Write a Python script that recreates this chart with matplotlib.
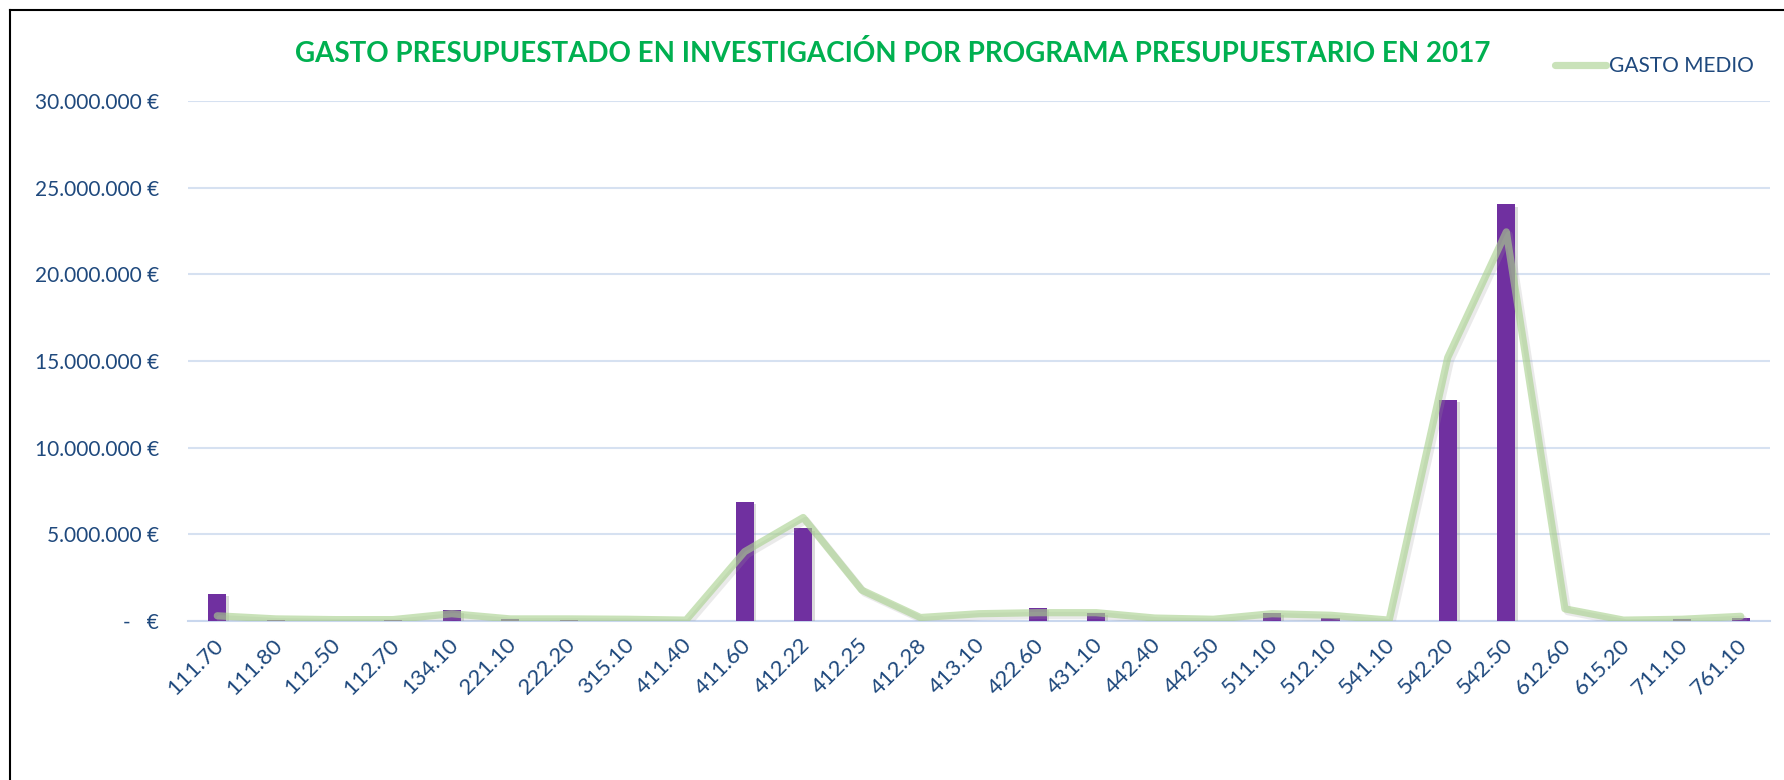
import matplotlib
matplotlib.use("Agg")
import matplotlib.pyplot as plt
import matplotlib.patheffects as pe
import matplotlib.transforms as mtransforms
from matplotlib.lines import Line2D
from matplotlib.ticker import FuncFormatter

categories = ["111.70", "111.80", "112.50", "112.70", "134.10", "221.10", "222.20",
              "315.10", "411.40", "411.60", "412.22", "412.25", "412.28", "413.10",
              "422.60", "431.10", "442.40", "442.50", "511.10", "512.10", "541.10",
              "542.20", "542.50", "612.60", "615.20", "711.10", "761.10"]

gasto_presupuestado = [1.58e6, 0.03e6, 0.0, 0.03e6, 0.62e6, 0.12e6, 0.05e6,
                       0.0, 0.0, 6.89e6, 5.35e6, 0.0, 0.0, 0.0,
                       0.77e6, 0.48e6, 0.0, 0.0, 0.48e6, 0.15e6, 0.0,
                       12.77e6, 24.05e6, 0.0, 0.0, 0.1e6, 0.17e6]

gasto_medio = [0.3e6, 0.12e6, 0.08e6, 0.08e6, 0.42e6, 0.12e6, 0.12e6,
               0.1e6, 0.05e6, 4.0e6, 5.97e6, 1.78e6, 0.2e6, 0.42e6,
               0.48e6, 0.48e6, 0.17e6, 0.1e6, 0.42e6, 0.33e6, 0.05e6,
               15.2e6, 22.45e6, 0.7e6, 0.05e6, 0.1e6, 0.27e6]

title = "GASTO PRESUPUESTADO EN INVESTIGACIÓN POR PROGRAMA PRESUPUESTARIO EN 2017"
legend_label = "GASTO MEDIO"

FONT = ["Lato", "DejaVu Sans"]
TEXT_BLUE = "#1F497D"
plt.rcParams["font.family"] = FONT

W, H = 1784, 780
fig = plt.figure(figsize=(W / 100, H / 100), dpi=100)
fig.patch.set_facecolor("white")

AX_L, AX_R, AX_T, AX_B = 188, 1770, 101, 621
ax = fig.add_axes([AX_L / W, 1 - AX_B / H, (AX_R - AX_L) / W, (AX_B - AX_T) / H])
x = list(range(len(categories)))

ax.bar(x, gasto_presupuestado, width=0.31, color="#7030A0", zorder=3,
       path_effects=[pe.SimplePatchShadow(offset=(2, -2), shadow_rgbFace="#999999", alpha=0.35),
                     pe.Normal()])

ax.plot(x, gasto_medio, color="#A9D18E", alpha=0.62, lw=5.2, zorder=4,
        solid_joinstyle="round", solid_capstyle="round",
        path_effects=[pe.SimpleLineShadow(offset=(2, -2), shadow_color="#999999", alpha=0.2),
                      pe.Normal()])

ax.set_xlim(-0.5, len(categories) - 0.5)
ax.set_ylim(0, 30e6)
ax.set_yticks([0, 5e6, 10e6, 15e6, 20e6, 25e6, 30e6])


def fmt(v, pos):
    if v == 0:
        return "-   €"
    return "{:,.0f} €".format(v).replace(",", ".")


ax.yaxis.set_major_formatter(FuncFormatter(fmt))
ax.grid(axis="y", color="#D6E1F1", lw=1.5, zorder=0)
ax.set_axisbelow(True)
for s in ["top", "right", "left"]:
    ax.spines[s].set_visible(False)
ax.spines["bottom"].set_color("#C9D7EE")
ax.spines["bottom"].set_linewidth(1.5)
ax.tick_params(axis="both", length=0, colors=TEXT_BLUE)
ax.tick_params(axis="y", pad=21, labelsize=15)
ax.set_xticks(x)
ax.set_xticklabels(categories, rotation=45, ha="right", rotation_mode="anchor")
ax.tick_params(axis="x", pad=10, labelsize=16)
shift = mtransforms.ScaledTranslation(-4 / 100, 0, fig.dpi_scale_trans)
for lbl in ax.get_xticklabels():
    lbl.set_transform(lbl.get_transform() + shift)

fig.text(893 / W, 1 - 53 / H, title, ha="center", va="center", color="#00B050",
         fontsize=20, fontweight="bold")

handle = Line2D([], [], color="#A9D18E", alpha=0.62, lw=5.2, solid_capstyle="round")
leg = fig.legend([handle], [legend_label], loc="center left",
                 bbox_to_anchor=(1555 / W, 1 - 66 / H), frameon=False,
                 fontsize=15, handlelength=2.45, handletextpad=0.15, borderpad=0,
                 borderaxespad=0)
for t in leg.get_texts():
    t.set_color(TEXT_BLUE)

# outer frame (left and top edges visible)
fig.add_artist(Line2D([10 / W, 10 / W], [0, 1 - 10 / H], transform=fig.transFigure,
                      color="black", lw=1.5))
fig.add_artist(Line2D([10 / W, 1], [1 - 10 / H, 1 - 10 / H], transform=fig.transFigure,
                      color="black", lw=1.5))

fig.savefig("out.png", dpi=100)
